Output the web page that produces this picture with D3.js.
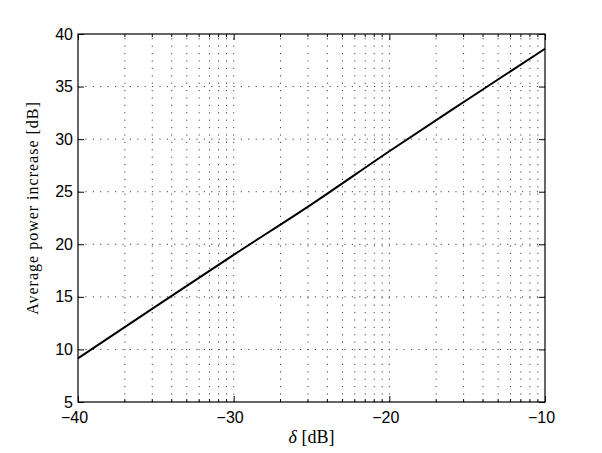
<!DOCTYPE html>
<html>
<head>
<meta charset="utf-8">
<script src="https://cdn.jsdelivr.net/npm/d3@7"></script>
<style>
  body { margin: 0; background: #fff; }
  svg text { fill: #000; }
</style>
</head>
<body>
<svg id="chart" width="602" height="453"></svg>
<script>
// data
const deltaDb = [-40, -35, -30, -25, -20, -15, -10];
const powerIncrease = [9.15, 14.1, 19.0, 23.8, 28.85, 33.75, 38.6];
const xTicks = [-40, -30, -20, -10];
const yTicks = [5, 10, 15, 20, 25, 30, 35, 40];
const minorSteps = [1, 2, 3, 4, 5, 6, 7, 8, 9]; // log style minor grid inside each decade

var svg = d3.select("#chart"),
    margin = { top: 34, left: 78, bottom: 51, right: 57 },
    width = +svg.attr("width") - margin.left - margin.right,
    height = +svg.attr("height") - margin.top - margin.bottom;

var x = d3.scaleLinear().domain([-40, -10]).range([margin.left, margin.left + width]);
var y = d3.scaleLinear().domain([5, 40]).range([margin.top + height, margin.top]);

// minor x positions: start + 10*log10(k)
var minorX = [];
xTicks.slice(0, -1).forEach(function (t) {
    minorSteps.forEach(function (k) {
        if (k > 1) minorX.push(t + 10 * Math.log10(k));
    });
});
var gridX = minorX.concat(xTicks.slice(1, -1));

// grid
var grid = svg.append("g")
    .attr("stroke", "#444")
    .attr("stroke-width", 1)
    .attr("stroke-dasharray", "1.2,6.2");

grid.selectAll(".vg").data(gridX).enter().append("line")
    .attr("x1", d => x(d)).attr("x2", d => x(d))
    .attr("y1", y(5)).attr("y2", y(40));

grid.selectAll(".hg").data(yTicks.slice(1, -1)).enter().append("line")
    .attr("x1", x(-40)).attr("x2", x(-10))
    .attr("y1", d => y(d)).attr("y2", d => y(d));

// axes (ticks pointing inward)
var xAxis = svg.append("g")
    .attr("transform", `translate(0,${y(5)})`)
    .call(d3.axisBottom(x).tickValues(xTicks).tickSizeInner(-6).tickSizeOuter(0).tickPadding(10)
        .tickFormat(d => d3.format("d")(d).replace("-", "\u2212")));
xAxis.selectAll("text").attr("dx", -4);

var xTop = svg.append("g")
    .attr("transform", `translate(0,${y(40)})`)
    .call(d3.axisTop(x).tickValues(xTicks).tickSizeInner(-6).tickSizeOuter(0).tickFormat(""));

var yAxis = svg.append("g")
    .attr("transform", `translate(${x(-40)},0)`)
    .call(d3.axisLeft(y).tickValues(yTicks).tickSizeInner(-6).tickSizeOuter(0).tickPadding(5));

var yRight = svg.append("g")
    .attr("transform", `translate(${x(-10)},0)`)
    .call(d3.axisRight(y).tickValues(yTicks).tickSizeInner(-6).tickSizeOuter(0).tickFormat(""));

svg.selectAll(".domain").remove();
svg.selectAll(".tick line").attr("stroke", "#000");
svg.selectAll(".tick text")
    .attr("font-family", "'Liberation Sans', Arial, sans-serif")
    .attr("font-size", "16px");

// minor ticks on bottom and top
svg.append("g").selectAll("line").data(minorX).enter().append("line")
    .attr("x1", d => x(d)).attr("x2", d => x(d))
    .attr("y1", y(5)).attr("y2", y(5) - 3)
    .attr("stroke", "#000");
svg.append("g").selectAll("line").data(minorX).enter().append("line")
    .attr("x1", d => x(d)).attr("x2", d => x(d))
    .attr("y1", y(40)).attr("y2", y(40) + 3)
    .attr("stroke", "#000");

// frame
svg.append("rect")
    .attr("x", x(-40)).attr("y", y(40))
    .attr("width", x(-10) - x(-40)).attr("height", y(5) - y(40))
    .attr("fill", "none").attr("stroke", "#000").attr("stroke-width", 1.2);

// curve
var line = d3.line()
    .x((d, i) => x(deltaDb[i]))
    .y(d => y(d))
    .curve(d3.curveMonotoneX);

svg.append("path")
    .datum(powerIncrease)
    .attr("fill", "none")
    .attr("stroke", "#000")
    .attr("stroke-width", 2)
    .attr("d", line);

// X Axis Label
var xl = svg.append("text")
    .attr("x", (x(-40) + x(-10)) / 2)
    .attr("y", 443)
    .attr("text-anchor", "middle")
    .attr("font-family", "'Liberation Serif', serif")
    .attr("font-size", "18px");
xl.append("tspan").attr("font-style", "italic").text("δ");
xl.append("tspan").text(" [dB]");

// Y Axis Label
svg.append("text")
    .attr("transform", "translate(38,208) rotate(-90)")
    .attr("text-anchor", "middle")
    .attr("font-family", "'Liberation Serif', serif")
    .attr("font-size", "16px")
    .attr("letter-spacing", "1px")
    .text("Average power increase [dB]");
</script>
</body>
</html>
